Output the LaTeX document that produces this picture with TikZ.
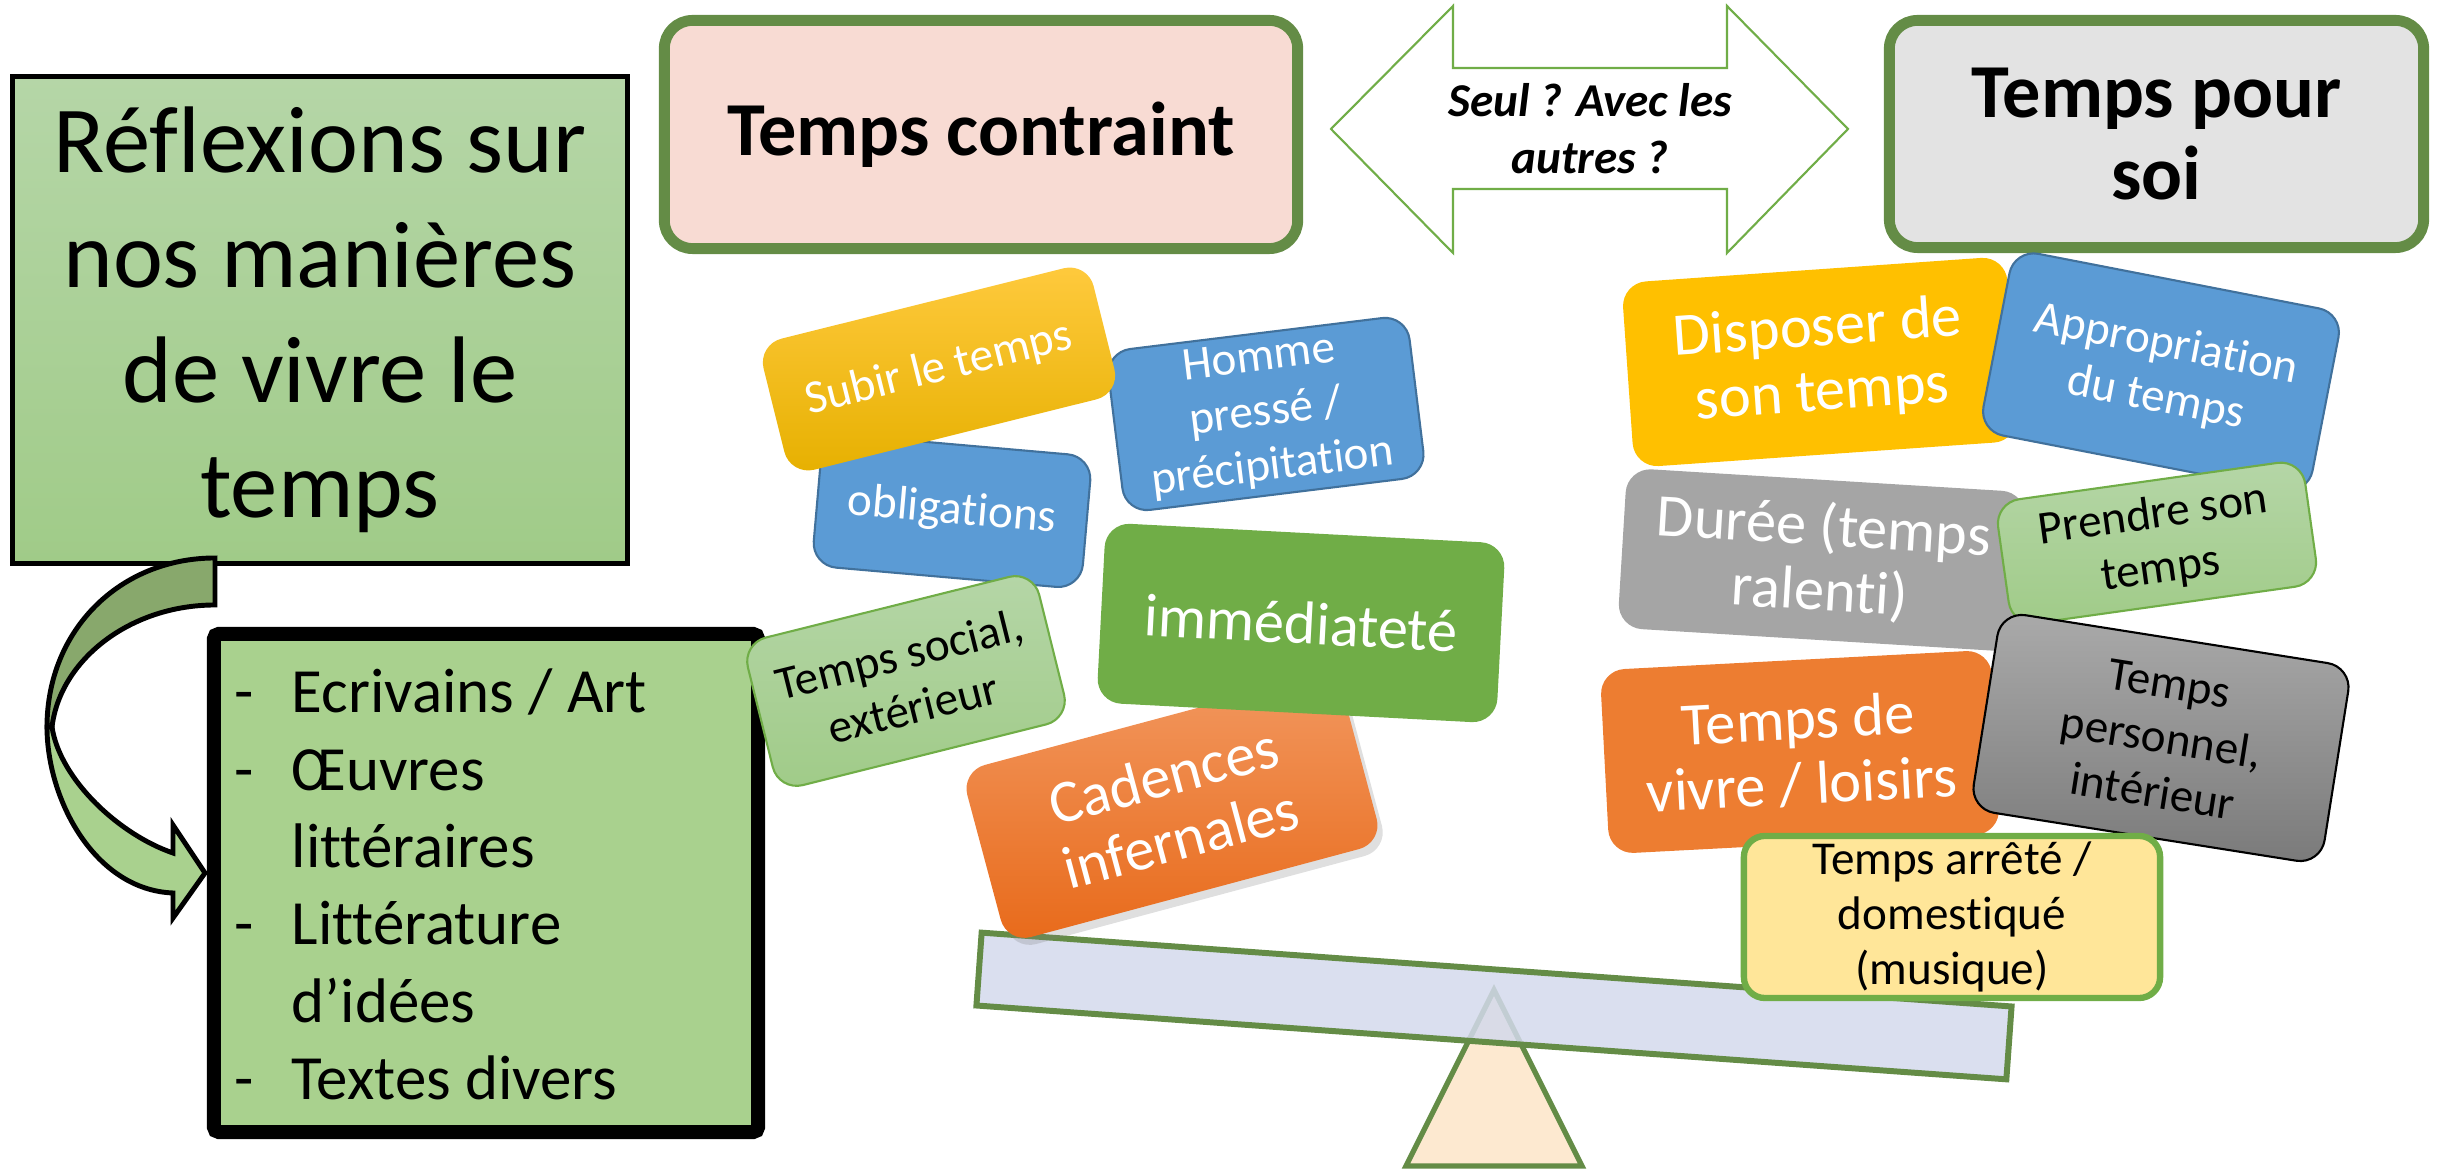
\documentclass[tikz,border=0pt]{standalone}
\usepackage{fontspec}
\setmainfont[Ligatures=NoCommon]{Carlito}
\usetikzlibrary{shadows}
\definecolor{borderg}{RGB}{100,140,70}
\definecolor{accentg}{RGB}{112,173,71}
\definecolor{pinkc}{RGB}{248,219,211}
\definecolor{grayc}{RGB}{227,227,227}
\definecolor{lgtop}{RGB}{181,214,167}
\definecolor{lgbot}{RGB}{160,203,136}
\definecolor{listg}{RGB}{169,209,142}
\definecolor{arrowdark}{RGB}{136,168,108}
\definecolor{bluec}{RGB}{91,155,213}
\definecolor{blueb}{RGB}{65,113,156}
\definecolor{yellowc}{RGB}{255,192,0}
\definecolor{yellowtop}{RGB}{255,202,62}
\definecolor{yellowbot}{RGB}{230,176,0}
\definecolor{orangec}{RGB}{237,125,49}
\definecolor{orangetop}{RGB}{242,152,96}
\definecolor{orangebot}{RGB}{232,106,26}
\definecolor{midgray}{RGB}{165,165,165}
\definecolor{dgtop}{RGB}{170,170,170}
\definecolor{dgbot}{RGB}{122,122,122}
\definecolor{palec}{RGB}{255,230,153}
\definecolor{beamc}{RGB}{211,217,236}
\definecolor{peachc}{RGB}{253,233,208}
\begin{document}
\begin{tikzpicture}[x=0.01cm, y=-0.01cm,
	card/.style={rectangle, rounded corners=7pt, align=center, inner sep=0pt},
	smalltxt/.style={font=\fontsize{13.4}{15.6}\selectfont},
	bigtxt/.style={font=\fontsize{17.2}{18.5}\selectfont, text=white},
	topbox/.style={rectangle, draw=borderg, line width=3.1pt, rounded corners=8pt, align=center, font=\bfseries\fontsize{21.7}{23.3}\selectfont},
	lgreen/.style={top color=lgtop, bottom color=lgbot, draw=accentg, line width=0.6pt},
	bluecard/.style={fill=bluec, draw=blueb, line width=0.6pt, text=white},
	listline/.style={anchor=base west, inner sep=0pt, font=\fontsize{17.9}{22}\selectfont}]
	\useasboundingbox (0,0) rectangle (2447,1171);

	% titre et liste
	\node[rectangle, draw=black, line width=1.4pt, top color=lgtop, bottom color=lgbot, minimum width=6.15cm, minimum height=4.87cm, align=center, font=\fontsize{26.9}{32.7}\selectfont] (titre) at (320,320) {Réflexions sur\\nos manières\\de vivre le\\temps};
	\node[rectangle, draw=black, line width=4pt, rounded corners=1.5pt, fill=listg, minimum width=5.44cm, minimum height=4.98cm] (liste) at (486,883) {};

	\foreach \t [count=\i] in {Ecrivains / Art, Œuvres, littéraires, Littérature, d’idées, Textes divers} {
		\node[listline] (l\i) at (291,{713+77.3*(\i-1)}) {\t};
	}
	\foreach \i in {1,2,4,6} {
		\node[listline] (d\i) at (234,{713+77.3*(\i-1)}) {-};
	}

	\draw[fill=arrowdark, line width=1.4pt] (215,558) .. controls (120,558) and (47,630) .. (47,727) -- (52,727) .. controls (60,660) and (130,605) .. (215,605) -- cycle;
	\draw[fill=listg, line width=1.4pt] (47,727) .. controls (47,800) and (95,890) .. (173,893) -- (173,918) -- (205,873) -- (173,825) -- (173,853) .. controls (120,835) and (60,780) .. (52,727) -- cycle;

	% en haut
	\node[topbox, fill=pinkc, minimum width=6.33cm, minimum height=2.28cm] (contraint) at (981,134.5) {Temps contraint};
	\node[topbox, fill=grayc, minimum width=5.34cm, minimum height=2.27cm] (soi) at (2156.5,134) {Temps pour\\soi};
	\draw[accentg, fill=white, line width=0.6pt] (1331,129) -- (1453,6) -- (1453,68) -- (1727,68) -- (1727,6) -- (1848,129) -- (1727,253) -- (1727,189) -- (1453,189) -- (1453,253) -- cycle;
	\node[align=center, font=\bfseries\itshape\fontsize{13.4}{16.2}\selectfont] (seul) at (1590,129) {Seul ? Avec les\\autres ?};

	% balance
	\draw[fill=peachc, draw=borderg, line width=1.5pt] (1494,990) -- (1582,1166) -- (1406,1166) -- cycle;
	\node[rectangle, fill=beamc, fill opacity=0.85, draw=borderg, line width=1.7pt, minimum width=10.32cm, minimum height=0.73cm, rotate=-4.1] (beam) at (1494,1006) {};

	% cote gauche
	\node[card, bluecard, smalltxt, minimum width=2.7cm, minimum height=1.33cm, rotate=-5] (oblig) at (952,511) {obligations};
	\node[card, bluecard, smalltxt, minimum width=3.03cm, minimum height=1.62cm, rotate=7] (homme) at (1266,414) {Homme\\pressé /\\précipitation};
	\node[card, smalltxt, top color=yellowtop, bottom color=yellowbot, text=white, minimum width=3.4cm, minimum height=1.35cm, rotate=14] (subir) at (939,369) {Subir le temps};
	\node[card, lgreen, smalltxt, minimum width=3cm, minimum height=1.52cm, rotate=14] (social) at (906,681) {Temps social,\\extérieur};
	\node[card, bigtxt, top color=orangetop, bottom color=orangebot, drop shadow={opacity=0.25, shadow xshift=1.5pt, shadow yshift=-2pt}, minimum width=3.89cm, minimum height=1.78cm, rotate=15] (cadences) at (1172,807) {Cadences\\infernales};
	\node[card, bigtxt, fill=accentg, minimum width=4cm, minimum height=1.8cm, rotate=-3] (immed) at (1301,623) {immédiateté};

	% cote droit
	\node[card, bigtxt, fill=midgray, minimum width=4cm, minimum height=1.6cm, rotate=-3.5] (duree) at (1822,560) {Durée (temps\\ralenti)};
	\node[card, bigtxt, fill=yellowc, minimum width=3.85cm, minimum height=1.85cm, rotate=4] (disposer) at (1820,362) {Disposer de\\son temps};
	\node[card, bluecard, smalltxt, minimum width=3.35cm, minimum height=1.85cm, rotate=-11] (approp) at (2161,372) {Appropriation\\du temps};
	\node[card, lgreen, smalltxt, minimum width=3.1cm, minimum height=1.25cm, rotate=8] (prendre) at (2157,543) {Prendre son\\temps};
	\node[card, bigtxt, fill=orangec, minimum width=3.91cm, minimum height=1.84cm, rotate=3] (vivre) at (1800,752) {Temps de\\vivre / loisirs};
	\node[card, smalltxt, top color=dgtop, bottom color=dgbot, draw=black, line width=0.6pt, minimum width=3.55cm, minimum height=2cm, rotate=-9] (perso) at (2161,738) {Temps\\personnel,\\intérieur};
	\node[card, smalltxt, fill=palec, draw=accentg, line width=1.8pt, rounded corners=6pt, minimum width=4.16cm, minimum height=1.62cm] (arrete) at (1952,917) {Temps arrêté /\\domestiqué\\(musique)};
\end{tikzpicture}
\end{document}
